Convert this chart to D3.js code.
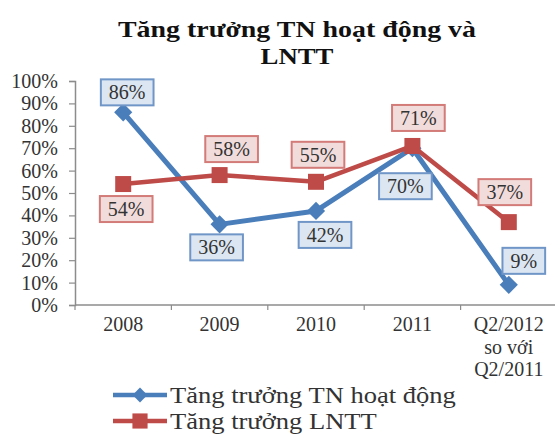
<!DOCTYPE html>
<html>
<head>
<meta charset="utf-8">
<script src="https://cdn.jsdelivr.net/npm/d3@7"></script>
<style>
  html, body { margin: 0; padding: 0; background: #fff; }
  svg { display: block; }
  svg text { font-family: "Liberation Serif", "Times New Roman", serif !important; }
</style>
</head>
<body>
<script>
// Growth of operating income and profit before tax
const categories = ["2008", "2009", "2010", "2011", "Q2/2012|so với|Q2/2011"];
const operatingIncomeGrowth = [86, 36, 42, 70, 9];
const profitBeforeTaxGrowth = [54, 58, 55, 71, 37];
const yTicks = [0, 10, 20, 30, 40, 50, 60, 70, 80, 90, 100];
const seriesNames = ["Tăng trưởng TN hoạt động", "Tăng trưởng LNTT"];
const titleLines = ["Tăng trưởng TN hoạt động và", "LNTT"];

// where each value callout sits relative to its point
const blueCalloutShift = [[4, -20], [-3, 23], [9, 24], [-7, 38], [15, -24]];
const redCalloutShift = [[3, 25], [12, -26], [2, -27], [6, -28], [-4, -30]];

const W = 555, H = 434;
const blue = "#4a7ebb", red = "#be4b48";
const serif = "'Liberation Serif', 'Times New Roman', serif";

const svg = d3.select("body").append("svg")
  .attr("width", W).attr("height", H);

// title: slightly condensed height, widened glyphs
svg.append("g").selectAll("text")
  .data(titleLines).join("text")
  .attr("x", 297)
  .attr("y", (d, i) => 37 + i * 27)
  .attr("text-anchor", "middle")
  .style("font-family", serif)
  .style("font-size", "24px")
  .style("font-weight", "bold")
  .attr("textLength", (d, i) => i === 0 ? 358 : 73)
  .attr("lengthAdjust", "spacingAndGlyphs")
  .attr("fill", "#111")
  .text(d => d);

const x = d3.scaleBand().domain(categories).range([75, 557]);
const y = d3.scaleLinear().domain([0, 100]).range([305, 81]);

// y axis
const yAxis = svg.append("g")
  .attr("transform", "translate(75,0)")
  .call(d3.axisLeft(y).tickValues(yTicks).tickSize(6).tickPadding(11)
    .tickFormat(d => d + "%"));
yAxis.attr("font-family", null).attr("font-size", null);
yAxis.select(".domain").attr("stroke", "#8c8c8c").attr("stroke-width", 1.5);
yAxis.selectAll(".tick line").attr("stroke", "#8c8c8c").attr("stroke-width", 1.2);
yAxis.selectAll(".tick text")
  .style("font-family", serif)
  .style("font-size", "20px").attr("fill", "#333");

// x axis: ticks at category boundaries
const xAxisG = svg.append("g").attr("transform", "translate(0,305)");
xAxisG.append("line")
  .attr("x1", 75).attr("x2", 557)
  .attr("stroke", "#8c8c8c").attr("stroke-width", 1.5);
const boundaries = categories.map(c => x(c)).concat([x.range()[1]]);
xAxisG.selectAll("line.tk").data(boundaries).join("line")
  .attr("class", "tk")
  .attr("x1", d => d).attr("x2", d => d)
  .attr("y1", 0).attr("y2", 5)
  .attr("stroke", "#8c8c8c").attr("stroke-width", 1.2);
const xLabels = xAxisG.selectAll("text.cat").data(categories).join("text")
  .attr("class", "cat")
  .attr("text-anchor", "middle")
  .style("font-family", serif)
  .style("font-size", "20px")
  .attr("fill", "#333");
xLabels.each(function (d) {
  const t = d3.select(this);
  d.split("|").forEach((line, i) => {
    t.append("tspan")
      .attr("x", x(d) + x.bandwidth() / 2)
      .attr("y", 26 + i * 22.5)
      .text(line);
  });
});

const cx = (d, i) => x(categories[i]) + x.bandwidth() / 2;
const lineGen = d3.line().x((d, i) => cx(d, i)).y(d => y(d));

// blue series
svg.append("path")
  .datum(operatingIncomeGrowth)
  .attr("d", lineGen)
  .attr("fill", "none").attr("stroke", blue)
  .attr("stroke-width", 5).attr("stroke-linejoin", "round");
svg.append("g").selectAll("path")
  .data(operatingIncomeGrowth).join("path")
  .attr("d", d3.symbol(d3.symbolSquare, 165))
  .attr("transform", (d, i) => `translate(${cx(d, i)},${y(d)}) rotate(45)`)
  .attr("fill", blue);

// red series
svg.append("path")
  .datum(profitBeforeTaxGrowth)
  .attr("d", lineGen)
  .attr("fill", "none").attr("stroke", red)
  .attr("stroke-width", 4.5).attr("stroke-linejoin", "round");
svg.append("g").selectAll("path")
  .data(profitBeforeTaxGrowth).join("path")
  .attr("d", d3.symbol(d3.symbolSquare, 256))
  .attr("transform", (d, i) => `translate(${cx(d, i)},${y(d)})`)
  .attr("fill", red);

// value callouts
function callouts(values, shifts, fill, stroke) {
  const g = svg.append("g");
  values.forEach((v, i) => {
    const px = cx(v, i) + shifts[i][0];
    const py = y(v) + shifts[i][1];
    const box = g.append("rect");
    const t = g.append("text")
      .attr("x", px).attr("y", py)
      .attr("dy", "0.35em")
      .attr("text-anchor", "middle")
      .style("font-family", serif)
      .style("font-size", "20px")
      .attr("fill", "#333")
      .text(v + "%");
    const w = t.node().getComputedTextLength() + 16;
    const h = 26;
    box.attr("x", px - w / 2).attr("y", py - h / 2)
      .attr("width", w).attr("height", h)
      .attr("fill", fill).attr("stroke", stroke).attr("stroke-width", 2);
  });
}
callouts(operatingIncomeGrowth, blueCalloutShift, "#dce6f2", "#7096c8");
callouts(profitBeforeTaxGrowth, redCalloutShift, "#f2dcdb", "#d27b78");

// legend
const legend = svg.append("g");
const legendRows = [
  { name: seriesNames[0], color: blue, sym: d3.symbol(d3.symbolSquare, 110), rot: 45, y: 395 },
  { name: seriesNames[1], color: red, sym: d3.symbol(d3.symbolSquare, 230), rot: 0, y: 421 }
];
legendRows.forEach(r => {
  legend.append("line")
    .attr("x1", 113).attr("x2", 167)
    .attr("y1", r.y).attr("y2", r.y)
    .attr("stroke", r.color).attr("stroke-width", 4.5);
  legend.append("path")
    .attr("d", r.sym)
    .attr("transform", `translate(140,${r.y}) rotate(${r.rot})`)
    .attr("fill", r.color);
  // wide, slightly short lettering
  legend.append("text")
    .attr("transform", `translate(170,${r.y + 8}) scale(1.18,1)`)
    .style("font-family", serif)
    .style("font-size", "22.5px")
    .attr("fill", "#333")
    .text(r.name);
});
</script>
</body>
</html>
